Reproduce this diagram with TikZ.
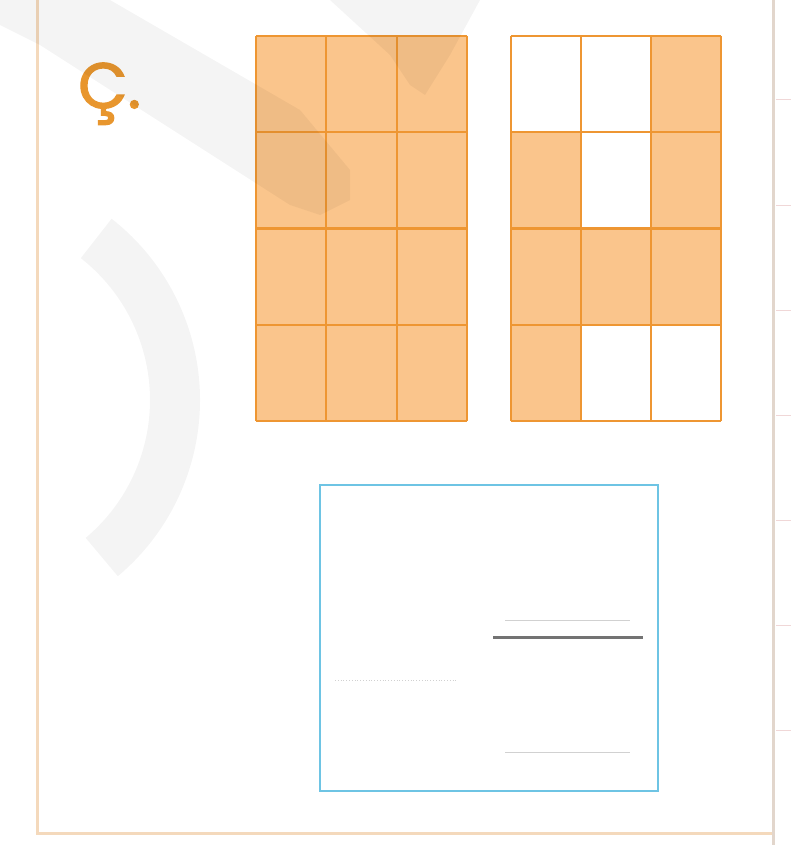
\documentclass[tikz,border=0pt]{standalone}
\usepackage{fontspec}
\newfontfamily\labelfont[FakeBold=2]{Poppins}
\definecolor{cellfill}{RGB}{250,197,140}
\definecolor{cellline}{RGB}{238,150,50}
\definecolor{labelorange}{RGB}{232,150,46}
\definecolor{framebeige}{RGB}{244,217,188}
\definecolor{framegray}{RGB}{226,214,204}
\definecolor{boxblue}{RGB}{110,196,228}
\definecolor{tickpink}{RGB}{240,215,215}
\tikzset{
  px/.style={x=1pt,y=-1pt},
  cellbox/.style={fill=cellfill},
  gridline/.style={draw=cellline,line width=2.2pt},
  wmark/.style={fill=black,fill opacity=0.042,draw=none},
  faint/.style={draw=black!18,line width=0.8pt},
}
\begin{document}
\begin{tikzpicture}[px]
\useasboundingbox (0,0) rectangle (791,845);
\fill[white] (0,0) rectangle (791,845);
% outer frame
\draw[framebeige,line width=3pt] (37,-5) -- (37,833) -- (773,833);
\draw[framegray,line width=3pt] (773,-5) -- (773,845);
\foreach \ty in {100,205,310,415,520,625,730}
  \draw[tickpink,line width=1pt] (776,\ty) -- (791,\ty);
% label
\node[anchor=base west,inner sep=0pt,text=labelorange,font=\labelfont\fontsize{64}{64}\selectfont] (lbl) at (78,108) {Ç.};
% left grid: all filled
\fill[cellbox] (256,36) rectangle (467,421);
\foreach \gx in {256,326.3,396.7,467}
  \draw[gridline] (\gx,36) -- (\gx,421);
\foreach \gy in {36,132.25,228.5,324.75,421}
  \draw[gridline] (256,\gy) -- (467,\gy);
% right grid
\fill[cellbox] (511,36) rectangle (721,421);
\fill[white] (511,36) rectangle (651,132.25);
\fill[white] (581,132.25) rectangle (651,228.5);
\fill[white] (581,324.75) rectangle (721,421);
\foreach \gx in {511,581,651,721}
  \draw[gridline] (\gx,36) -- (\gx,421);
\foreach \gy in {36,132.25,228.5,324.75,421}
  \draw[gridline] (511,\gy) -- (721,\gy);
% answer box
\node[draw=boxblue,line width=2.2pt,minimum width=338pt,minimum height=306pt,inner sep=0pt] (ansbox) at (489,638) {};
\draw[faint] (505,620) -- (630,620);
\draw[black!55,line width=3pt] (493,637) -- (643,637);
\draw[faint] (505,752) -- (630,752);
\draw[faint,dotted] (335,680) -- (458,680);
% faint watermark
\fill[wmark] (0,0) -- (110,0) -- (300,110) -- (350,170) -- (350,200) -- (320,215) -- (290,205) -- (40,45) -- (0,25) -- cycle;
\fill[wmark] (330,0) -- (480,0) -- (450,55) -- (425,95) -- (410,85) -- (390,55) -- cycle;
\fill[wmark] (-30,400) ++(50:230) arc[start angle=50,end angle=-52,radius=230] -- ++(128:50) arc[start angle=-52,end angle=50,radius=180] -- cycle;
\end{tikzpicture}
\end{document}
